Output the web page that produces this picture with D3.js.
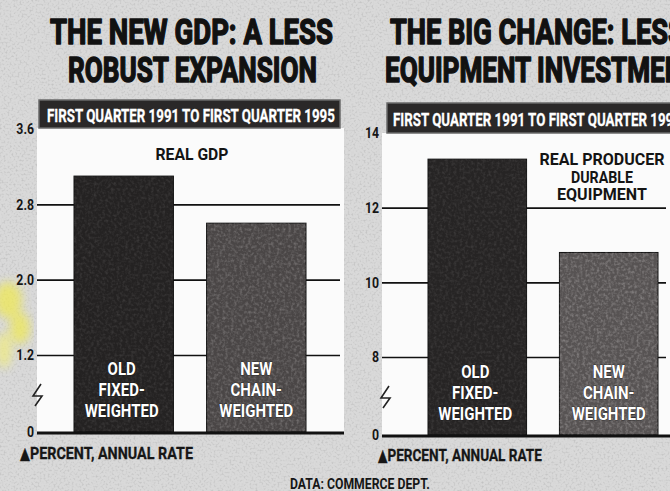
<!DOCTYPE html>
<html>
<head>
<meta charset="utf-8">
<script src="https://cdn.jsdelivr.net/npm/d3@7/dist/d3.min.js"></script>
<style>
  html, body { margin: 0; padding: 0; background: #d6d6d6; }
  svg { display: block; }
  text { font-family: Roboto, 'DejaVu Sans Condensed', sans-serif; font-weight: 700; }
</style>
</head>
<body>
<script>
// ---- data ----
const categories = ["OLD FIXED-WEIGHTED", "NEW CHAIN-WEIGHTED"];
const barLabelLines = [["OLD", "FIXED-", "WEIGHTED"], ["NEW", "CHAIN-", "WEIGHTED"]];
const gdpValues = [3.1, 2.6];          // real GDP, percent annual rate
const equipValues = [13.3, 10.8];      // real producer durable equipment
const gdpTicks = [0, 1.2, 2.0, 2.8, 3.6];
const gdpTickLabels = ["0", "1.2", "2.0", "2.8", "3.6"];
const equipTicks = [0, 8, 10, 12, 14];
const equipTickLabels = ["0", "8", "10", "12", "14"];
const gdpTitle = ["THE NEW GDP: A LESS", "ROBUST EXPANSION"];
const equipTitle = ["THE BIG CHANGE: LESS", "EQUIPMENT INVESTMENT"];
const periodText = "FIRST QUARTER 1991 TO FIRST QUARTER 1995";
const gdpSeriesLabel = ["REAL GDP"];
const equipSeriesLabel = ["REAL PRODUCER", "DURABLE", "EQUIPMENT"];
const unitText = "\u25B2PERCENT, ANNUAL RATE";
const sourceText = "DATA: COMMERCE DEPT.";

const W = 670, H = 491;
const svg = d3.select("body").append("svg").attr("width", W).attr("height", H);
const defs = svg.append("defs");

// Squeeze a text horizontally so that its first `chars` characters span `width`.
function fit(sel, x, y, width, anchor, chars) {
  const node = sel.node();
  const n = chars == null ? node.getNumberOfChars() : chars;
  sel.attr("x", 0).attr("y", 0).attr("text-anchor", "start");
  const w = node.getSubStringLength(0, n);
  const s = width / w;
  const full = node.getComputedTextLength() * s;
  const left = anchor === "middle" ? x - full / 2 : (anchor === "end" ? x - full : x);
  sel.attr("transform", `translate(${left},${y}) scale(${s},1)`);
  return s;
}

// paper grain: dark speckles
const grain = defs.append("filter").attr("id", "grain")
  .attr("x", 0).attr("y", 0).attr("width", "100%").attr("height", "100%");
grain.append("feTurbulence").attr("type", "fractalNoise").attr("baseFrequency", 0.5)
  .attr("numOctaves", 3).attr("seed", 7).attr("result", "n");
grain.append("feColorMatrix").attr("in", "n").attr("type", "matrix")
  .attr("values", "0 0 0 0 0.45  0 0 0 0 0.45  0 0 0 0 0.45  1.6 0 0 0 -0.76");

// light speckles inside the bars, clipped to the shape
const speck = defs.append("filter").attr("id", "speck")
  .attr("x", 0).attr("y", 0).attr("width", "100%").attr("height", "100%");
speck.append("feTurbulence").attr("type", "fractalNoise").attr("baseFrequency", 0.35)
  .attr("numOctaves", 2).attr("seed", 3).attr("result", "n");
speck.append("feColorMatrix").attr("in", "n").attr("type", "matrix")
  .attr("values", "0 0 0 0 0.72  0 0 0 0 0.70  0 0 0 0 0.70  1.4 0 0 0 -0.58").attr("result", "c");
speck.append("feComposite").attr("in", "c").attr("in2", "SourceAlpha").attr("operator", "in");

const soft = defs.append("filter").attr("id", "soft");
soft.append("feGaussianBlur").attr("stdDeviation", 5);

// paper
svg.append("rect").attr("width", W).attr("height", H).attr("fill", "#d9d9d9");
svg.append("rect").attr("width", W).attr("height", H).attr("filter", "url(#grain)");

// highlighter smudge on the left edge
const smudge = svg.append("g").attr("filter", "url(#soft)").attr("opacity", 0.7);
smudge.append("ellipse").attr("cx", 8).attr("cy", 300).attr("rx", 14).attr("ry", 18).attr("fill", "#f1ea4e");
smudge.append("ellipse").attr("cx", 20).attr("cy", 328).attr("rx", 10).attr("ry", 16).attr("fill", "#f1ea4e");
smudge.append("ellipse").attr("cx", 4).attr("cy", 350).attr("rx", 8).attr("ry", 18).attr("fill", "#f3ee7a");

// layout for each panel
const panels = [
  {
    values: gdpValues, ticks: gdpTicks, tickLabels: gdpTickLabels,
    title: gdpTitle, titleX: [50, 68], titleW: [283, 249], titleChars: [null, null], titleY: [44, 82],
    series: gdpSeriesLabel, seriesX: 192, seriesY: [160], seriesW: [73],
    banner: { x: 39, y: 100, w: 301, h: 28, tx: 47, ty: 122, tw: 288 },
    yDomain: [0, 1.2, 3.6], yRange: [432, 355, 129],
    gridX0: 37, gridX1: 340, labelRight: 34,
    band: [74, 306], barColors: ["#242222", "#4a4646"], texOpacity: [0.18, 0.4],
    unitX: 20, unitY: 459, unitW: 173,
    breakX: 37, breakY: 395
  },
  {
    values: equipValues, ticks: equipTicks, tickLabels: equipTickLabels,
    title: equipTitle, titleX: [390, 385], titleW: [278, 280], titleChars: [19, 18], titleY: [44, 82],
    series: equipSeriesLabel, seriesX: 602, seriesY: [165, 182.5, 200], seriesW: [125, 62, 90],
    banner: { x: 387, y: 103, w: 290, h: 30, tx: 393, ty: 126, tw: 288 },
    yDomain: [0, 8, 14], yRange: [435, 357, 133],
    gridX0: 382, gridX1: 666, labelRight: 379,
    band: [428, 658], barColors: ["#262424", "#575353"], texOpacity: [0.18, 0.5],
    unitX: 378, unitY: 461, unitW: 164,
    breakX: 385, breakY: 397
  }
];

panels.forEach(p => {
  const g = svg.append("g");
  const y = d3.scaleLinear().domain(p.yDomain).range(p.yRange);
  const x = d3.scaleBand().domain(categories).range(p.band).paddingInner(0.25).paddingOuter(0);
  const topVal = p.ticks[p.ticks.length - 1];

  // white plotting field
  g.append("rect")
    .attr("x", p.gridX0).attr("y", p.banner.y + p.banner.h)
    .attr("width", p.gridX1 - p.gridX0 + 4)
    .attr("height", y(0) - (p.banner.y + p.banner.h))
    .attr("fill", "#fbfbfb");

  // title, two lines
  p.title.forEach((t, i) => {
    const tt = g.append("text")
      .attr("font-size", 35).attr("font-weight", 900).attr("fill", "#111")
      .attr("stroke", "#111").attr("stroke-width", 1.5).attr("stroke-linejoin", "round")
      .text(t);
    fit(tt, p.titleX[i], p.titleY[i], p.titleW[i], "start", p.titleChars[i]);
  });

  // period banner
  g.append("rect").attr("x", p.banner.x).attr("y", p.banner.y)
    .attr("width", p.banner.w).attr("height", p.banner.h)
    .attr("fill", "#2a2828").attr("stroke", "#6a6a6a").attr("stroke-width", 1.5);
  const bt = g.append("text").attr("font-size", 18.5).attr("fill", "#ffffff")
    .attr("stroke", "#ffffff").attr("stroke-width", 0.3).text(periodText);
  fit(bt, p.banner.tx, p.banner.ty, p.banner.tw, "start");

  // gridlines (top value sits on the banner edge and has no line)
  const gridVals = p.ticks.filter(d => d !== 0 && d !== topVal);
  const grid = g.append("g").attr("transform", `translate(${p.gridX0},0)`)
    .call(d3.axisRight(y).tickValues(gridVals).tickSize(p.gridX1 - p.gridX0).tickFormat(""));
  grid.select(".domain").remove();
  grid.selectAll(".tick line").attr("stroke", "#111").attr("stroke-width", 1.6);

  // tick labels
  const lab = g.append("g").attr("transform", `translate(${p.labelRight},0)`)
    .call(d3.axisLeft(y).tickValues(p.ticks).tickSize(0).tickPadding(0)
      .tickFormat((d, i) => p.tickLabels[i]));
  lab.select(".domain").remove();
  lab.selectAll("text").attr("font-size", 15).attr("fill", "#161616")
    .attr("font-family", "Roboto, sans-serif").attr("font-weight", 700)
    .attr("transform", "scale(0.82,1)");

  // series label
  p.series.forEach((t, i) => {
    const st = g.append("text").attr("font-size", 16).attr("fill", "#141414").text(t);
    fit(st, p.seriesX, p.seriesY[i], p.seriesW[i], "middle");
  });

  // bars
  const bars = g.append("g");
  bars.selectAll("rect.bar").data(p.values).join("rect").attr("class", "bar")
    .attr("x", (d, i) => x(categories[i])).attr("y", d => y(d))
    .attr("width", x.bandwidth()).attr("height", d => y(0) - y(d))
    .attr("fill", (d, i) => p.barColors[i])
    .attr("stroke", "#111").attr("stroke-width", 1);
  bars.selectAll("rect.tex").data(p.values).join("rect").attr("class", "tex")
    .attr("x", (d, i) => x(categories[i])).attr("y", d => y(d))
    .attr("width", x.bandwidth()).attr("height", d => y(0) - y(d))
    .attr("fill", "#000").attr("filter", "url(#speck)")
    .attr("opacity", (d, i) => p.texOpacity[i]);

  // labels inside bars: one common squeeze, set by the widest word
  barLabelLines.forEach((lines, i) => {
    const cx = x(categories[i]) + x.bandwidth() / 2 - (i === 0 ? 2 : 0);
    const probe = g.append("text").attr("font-size", 19).text("WEIGHTED");
    const s = 74 / probe.node().getComputedTextLength();
    probe.remove();
    lines.forEach((t, j) => {
      const lt = g.append("text").attr("font-size", 19).attr("fill", "#ffffff")
        .attr("stroke", "#111").attr("stroke-width", 0.7).attr("paint-order", "stroke")
        .text(t);
      const w = lt.node().getComputedTextLength() * s;
      fit(lt, cx, y(0) - 57 + j * 21, w, "middle");
    });
  });

  // zero baseline
  g.append("line").attr("x1", p.gridX0).attr("x2", p.gridX1 + 4)
    .attr("y1", y(0) + 1).attr("y2", y(0) + 1)
    .attr("stroke", "#111").attr("stroke-width", 3);

  // axis break mark
  const bx = p.breakX, by = p.breakY;
  g.append("path")
    .attr("d", `M${bx + 4},${by - 11} L${bx - 4},${by + 1} L${bx + 5},${by + 1} L${bx - 2},${by + 11}`)
    .attr("fill", "none").attr("stroke", "#222").attr("stroke-width", 1.6)
    .attr("stroke-linejoin", "miter");

  // unit note
  const ut = g.append("text").attr("font-size", 17).attr("fill", "#161616")
    .attr("stroke", "#161616").attr("stroke-width", 0.3).text(unitText);
  fit(ut, p.unitX, p.unitY, p.unitW, "start");
});

// source line
const src = svg.append("text").attr("font-size", 14).attr("fill", "#161616").text(sourceText);
fit(src, 290, 489, 140, "start");
</script>
</body>
</html>
